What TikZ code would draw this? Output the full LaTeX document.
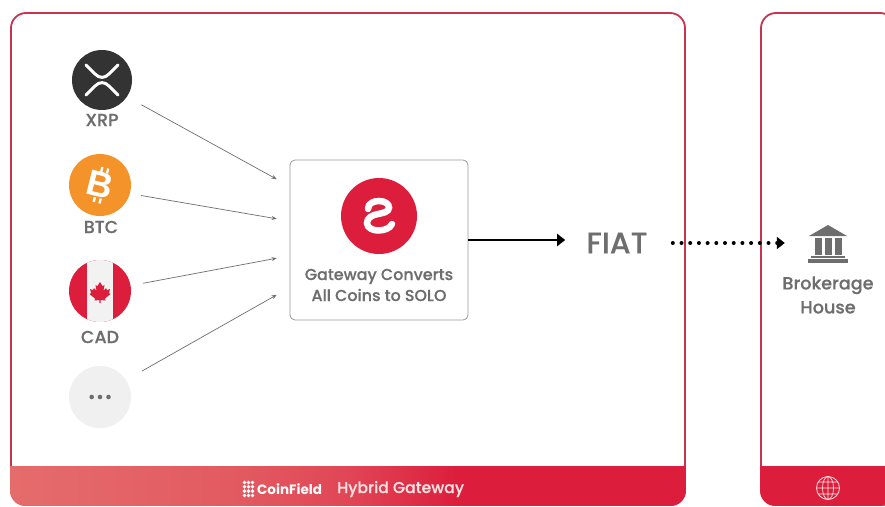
\documentclass[tikz,border=0pt]{standalone}
\usepackage{fontspec}
\setmainfont{Poppins}[UprightFont={* Medium},BoldFont={* Bold},UprightFeatures={FakeBold=0.3}]
\newfontfamily\coinsymbol{Liberation Sans Bold}
\usetikzlibrary{arrows.meta}

\definecolor{panelred}{HTML}{C8344E}
\definecolor{brandred}{HTML}{DC1E3C}
\definecolor{btcorange}{HTML}{F3932A}
\definecolor{textgrey}{HTML}{6E6E6E}
\definecolor{feedgrey}{HTML}{6E6E6E}
\definecolor{footertext}{HTML}{FBE3E3}
\definecolor{footerA}{HTML}{E56C6C}
\definecolor{footerB}{HTML}{E25A60}
\definecolor{footerC}{HTML}{E14656}
\pgfdeclarehorizontalshading{footerred}{100bp}{color(0bp)=(footerA); color(25bp)=(footerA); color(42bp)=(footerB); color(50bp)=(footerC); color(58bp)=(brandred); color(100bp)=(brandred)}

\tikzset{
	panelbox/.style={draw=panelred, line width=1.8pt, rounded corners=15pt, inner sep=0pt},
	coin/.style={circle, inner sep=0pt, minimum size=62pt},
	coinname/.style={text=textgrey, font=\fontsize{17.5}{18}\selectfont, inner sep=0pt},
	feedline/.style={draw=feedgrey, line width=0.7pt, -{Stealth[length=5pt,width=4pt]}},
	boxtext/.style={text=textgrey, align=center, font=\fontsize{15.9}{21}\selectfont, inner sep=0pt},
}

\begin{document}
\begin{tikzpicture}[x=1pt,y=-1pt]
	\useasboundingbox (0,0) rectangle (885,506);
	\clip (0,0) rectangle (885,506);
	\fill[white] (0,0) rectangle (885,506);

	\node[panelbox, minimum width=674pt, minimum height=492pt] (hybridpanel) at (348,259) {};
	\node[panelbox, minimum width=134pt, minimum height=492pt] (brokerpanel) at (828,259) {};
	\shade[shading=footerred] (10.1,466) {[rounded corners=15pt] -- (10.1,505.9) -- (685.9,505.9)} -- (685.9,466) -- cycle;
	\fill[brandred] (760.1,466) {[rounded corners=15pt] -- (760.1,505.9) -- (895.9,505.9)} -- (895.9,466) -- cycle;

	\node[coin, minimum size=60pt, fill=black!80] (xrp) at (102,80) {};
	\draw[white, line width=3pt, line cap=round, line join=round] (86,65) -- (95,74) .. controls (99.5,78.5) and (104.5,78.5) .. (109,74) -- (118,65);
	\draw[white, line width=3pt, line cap=round, line join=round] (86,95) -- (95,86) .. controls (99.5,81.5) and (104.5,81.5) .. (109,86) -- (118,95);
	\node[coinname] (xrpname) at (102,120) {XRP};

	\node[coin, fill=btcorange] (btc) at (100,185) {};
	\node[text=white, rotate=-14, inner sep=0pt, font=\coinsymbol\fontsize{36}{36}\selectfont] (btcsign) at (100,185) {B};
	\foreach \tickx in {-2,4} {
		\fill[white, rotate around={-14:(100,185)}] (100+\tickx-1.2,167) rectangle (100+\tickx+1.2,172);
		\fill[white, rotate around={-14:(100,185)}] (100+\tickx-1.2,198) rectangle (100+\tickx+1.2,203);
	}
	\node[coinname] (btcname) at (101,227) {BTC};

	\node[coin, fill=brandred, path picture={\fill[black!5] (-13,-35) rectangle (13,35);}] (cad) at (100,291) {};
	\fill[brandred, shift={(100,292)}] (0,-10) -- (2.5,-6) -- (4.5,-7) -- (3.5,-1.5) -- (6,-4) -- (7,-2) -- (10,-3) -- (9,1) -- (10.5,2) -- (5,6.5) -- (5.5,8.5) -- (0.7,8) -- (0.7,11) -- (-0.7,11) -- (-0.7,8) -- (-5.5,8.5) -- (-5,6.5) -- (-10.5,2) -- (-9,1) -- (-10,-3) -- (-7,-2) -- (-6,-4) -- (-3.5,-1.5) -- (-4.5,-7) -- (-2.5,-6) -- cycle;
	\node[coinname] (cadname) at (100,337) {CAD};

	\node[coin, fill=black!6] (more) at (100,397) {};
	\foreach \dotx in {91.7,100,108.5}
		\fill[textgrey] (\dotx,397) circle (2.3);

	\node[draw=black!40, fill=white, line width=0.8pt, rounded corners=5pt, minimum width=178pt, minimum height=160pt, inner sep=0pt] (gateway) at (379,240) {};
	\node[circle, fill=brandred, inner sep=0pt, minimum size=76pt] (solologo) at (379,216) {};
	\draw[white, line width=6.5pt, line cap=round, shift={(379,216)}] (-11,-7) .. controls (-11,-13) and (-5,-15) .. (0,-15) .. controls (6,-15) and (10,-12) .. (10,-8.5) .. controls (10,-4) and (4,-3) .. (-1,-2) .. controls (-7,-1) and (-12,2) .. (-12,7) .. controls (-12,12) and (-6,14.5) .. (-1,14.5) .. controls (5,14.5) and (11,12.5) .. (13,8);
	\node[boxtext] (gatewaytext) at (379,285) {Gateway Converts\\All Coins to SOLO};

	\draw[feedline, shorten <=16.4pt, shorten >=14.8pt] (xrp.-34.8) -- (gateway.149.2);
	\draw[feedline, shorten <=11.2pt, shorten >=13.2pt] (btc.-16.9) -- (gateway.168.1);
	\draw[feedline, shorten <=12.7pt, shorten >=13.2pt] (cad.10.8) -- (gateway.190.6);
	\draw[feedline, shorten <=18.3pt, shorten >=14.9pt] (more.33.5) -- (gateway.208.7);

	\node[text=textgrey, font=\fontsize{30}{30}\selectfont, inner sep=0pt] (fiat) at (617,243) {FIAT};
	\draw[line width=2.2pt, -{Triangle[length=8pt,width=12pt]}, shorten >=21pt] (gateway.east) -- (gateway.east -| fiat.west);

	\node[inner sep=0pt, minimum width=40pt, minimum height=38pt] (bank) at (828,243) {};
	\fill[textgrey] (809,236) -- (828,225) -- (847,236) -- cycle;
	\foreach \colx in {814.5,824.5,834.5}
		\fill[textgrey] (\colx,238) rectangle (\colx+7,254.5);
	\fill[textgrey] (811,255.5) rectangle (845,258);
	\fill[textgrey] (808,259) rectangle (848,262.5);
	\node[text=textgrey, align=center, inner sep=0pt, font=\fontsize{17.6}{24}\selectfont] (banktext) at (828,295) {Brokerage\\House};
	\draw[line width=4pt, line cap=round, dash pattern=on 0pt off 8.7pt, -{Triangle[length=8pt,width=12pt]}, shorten <=25pt, shorten >=23pt] (fiat.east) -- (bank.west);

	\node[text=white, font=\bfseries\fontsize{13.5}{14}\selectfont, inner sep=0pt, anchor=west] (coinfield) at (257,489) {CoinField};
	\foreach \gridx in {244.5,248.5,252.5}
		\foreach \gridy in {482.5,486.8,491.1,495.4}
			\fill[white] (\gridx,\gridy) circle (1.9);
	\node[text=footertext, font=\fontsize{15.7}{16}\selectfont, inner sep=0pt, anchor=west] (hybridtext) at (337,489) {Hybrid Gateway};

	\node[circle, draw=footertext, line width=0.8pt, inner sep=0pt, minimum size=23pt] (globe) at (828,488) {};
	\draw[footertext, line width=0.7pt] (828,488) ellipse (5.5 and 11.5) (828,476.5) -- (828,499.5) (816.5,488) -- (839.5,488) (818,482) -- (838,482) (818,494) -- (838,494);
\end{tikzpicture}
\end{document}
